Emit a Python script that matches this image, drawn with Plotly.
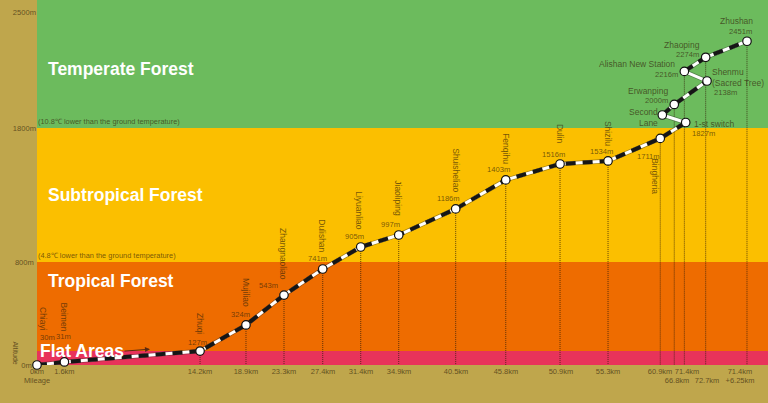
import plotly.graph_objects as go

# stations in track order; x/y are positions read on the chart's own schematic scales
names = ["Chiayi", "Beimen", "Zhuqi", "Mujiliao", "Zhangnaoliao", "Dulishan", "Liyuanliao", "Jiaoliping",
         "Shuisheliao", "Fenqihu", "Dulin", "Shizilu", "Bingheria", "1-st switch", "Second<br>Lane",
         "Erwanping", "Shenmu<br>(Sacred Tree)", "Alishan New Station", "Zhaoping", "Zhushan"]
altitude = ["30m", "31m", "127m", "324m", "543m", "741m", "905m", "997m", "1186m", "1403m", "1516m",
            "1534m", "1711m", "1827m", "", "2000m", "2138m", "2216m", "2274m", "2451m"]
track_x = [0, 2.66, 15.83, 20.29, 23.98, 27.74, 31.43, 35.12, 40.65, 45.51, 50.78, 55.44,
           60.51, 62.98, 60.71, 61.87, 65.05, 62.85, 64.92, 68.93]
track_y = [0, 23, 106, 304, 531, 729, 896, 987, 1185, 1405, 1526, 1549,
           1720, 1841, 1898, 1978, 2156, 2229, 2336, 2458]

# mileage labels
km_pos = [0, 2.66, 15.83, 20.29, 23.98, 27.77, 31.46, 35.15, 40.68, 45.53, 50.87, 55.44,
          60.49, 63.11, 62.14, 65.05, 68.25]
km_text = ["0km<br>Mileage", "1.6km", "14.2km", "18.9km", "23.3km", "27.4km", "31.4km", "34.9km", "40.5km",
           "45.8km", "50.9km", "55.3km", "60.9km", "71.4km", "<br>66.8km", "<br>72.7km", "71.4km<br>+6.25km"]

# altitude axis
alt_pos = [0, 782, 1800, 2680]
alt_text = ["0m&nbsp;&nbsp;", "800m&nbsp;", "1800m", "2500m"]

# zones
band_names = ["Flat Areas", "Tropical Forest", "Subtropical Forest", "Temperate Forest"]
band_low = [0, 106, 782, 1800]
band_high = [106, 782, 1800, 2771]
band_colors = ["#e8335a", "#ee6c00", "#fbbf00", "#6cbb5d"]
band_label_y = [106, 638, 1289, 2247]

# dropped guide lines, by station index
drops = [2, 3, 4, 5, 6, 7, 8, 9, 10, 11, 12, 15, 17, 18, 19]
long_drops = [15, 18]

INK = "rgba(50,35,10,0.68)"
FONT = "Liberation Sans"

# label offsets from the station, pixels (right, up)
name_off = [(6, 46), (0, 45), (0, 28), (0, 32), (-1, 41), (-1, 33), (-2, 36), (-1, 37), (0, 39), (0, 31),
            (0, 30), (0, 28), (-6, -38), (28, -1), (-19, -3), (-26, 13), (31, 4), (-47, 7), (-24, 12), (-10, 20)]
alt_off = [(10, 28), (-1, 25), (-3, 9), (-5, 10), (-16, 10), (-5, 10), (-6, 10), (-8, 10), (-7, 10), (-7, 10),
           (-7, 9), (-7, 9), (-12, -18), (18, -11), (0, 0), (-18, 4), (18, -11), (-18, -3), (-18, 3), (-6, 10)]

fig = go.Figure()

# guide lines
gx, gy = [], []
for i in drops:
    gx += [track_x[i], track_x[i], None]
    gy += [track_y[i], -121 if i in long_drops else 0, None]
fig.add_trace(go.Scatter(x=gx, y=gy, mode="lines", cliponaxis=False, hoverinfo="skip",
                         line=dict(color="rgba(50,30,10,0.75)", width=1, dash="1px,1px")))

# track: soft edge, white bed, black sleepers; the two switchback legs stay white
fig.add_trace(go.Scatter(x=track_x, y=track_y, mode="lines", cliponaxis=False,
                         line=dict(color="rgba(40,40,40,0.4)", width=4.5)))
fig.add_trace(go.Scatter(x=track_x, y=track_y, mode="lines", cliponaxis=False,
                         line=dict(color="white", width=3)))
sx, sy = [], []
for i in range(len(track_x)):
    if i in (14, 17):
        sx.append(None)
        sy.append(None)
    sx.append(track_x[i])
    sy.append(track_y[i])
fig.add_trace(go.Scatter(x=sx, y=sy, mode="lines", cliponaxis=False,
                         line=dict(color="#161616", width=4, dash="10px,7px")))
fig.add_trace(go.Scatter(x=track_x, y=track_y, mode="markers", cliponaxis=False,
                         marker=dict(color="white", size=8.5, line=dict(color="#111", width=1.2))))

for i in range(len(band_names)):
    fig.add_shape(type="rect", layer="below", xref="paper", x0=0, x1=1, y0=band_low[i], y1=band_high[i],
                  fillcolor=band_colors[i], line_width=0)
    fig.add_annotation(x=0, y=band_label_y[i], text="<b>%s</b>" % band_names[i], showarrow=False,
                       xanchor="left", xshift=1 if i == 0 else 9,
                       font=dict(family=FONT, size=17.5, color="white"))

fig.add_annotation(x=0, y=1848, text="(10.8℃ lower than the ground temperature)", showarrow=False,
                   xanchor="left", xshift=-1, font=dict(family=FONT, size=7.4, color=INK))
fig.add_annotation(x=0, y=835, text="(4.8℃ lower than the ground temperature)", showarrow=False,
                   xanchor="left", xshift=-1, font=dict(family=FONT, size=7.4, color=INK))

# direction arrow after "Flat Areas"
fig.add_annotation(x=10.97, y=120, ax=-27, ay=2, text="", showarrow=True, arrowhead=2, arrowsize=1,
                   arrowwidth=1, arrowcolor="#5a2a10")

for i in range(len(names)):
    upright = i <= 12
    fig.add_annotation(x=track_x[i], y=track_y[i], text=names[i], showarrow=False,
                       textangle=90 if upright else 0, align="right" if i == 14 else "left",
                       xshift=name_off[i][0], yshift=name_off[i][1],
                       font=dict(family=FONT, size=8.5, color=INK))
    if altitude[i]:
        fig.add_annotation(x=track_x[i], y=track_y[i], text=altitude[i], showarrow=False,
                           xshift=alt_off[i][0], yshift=alt_off[i][1],
                           font=dict(family=FONT, size=7.6, color=INK))

fig.add_annotation(xref="paper", x=-27 / 731, y=92, text="Altitude", textangle=90, showarrow=False,
                   font=dict(family=FONT, size=7, color=INK))

fig.update_layout(
    width=768, height=403,
    margin=dict(l=37, r=0, t=0, b=38),
    paper_bgcolor="#bfa64c",
    plot_bgcolor="#bfa64c",
    showlegend=False,
    xaxis=dict(range=[0, 70.97], showgrid=False, zeroline=False, tickmode="array", tickvals=km_pos,
               ticktext=km_text, tickangle=0, ticks="", tickfont=dict(family=FONT, size=7.5, color=INK)),
    yaxis=dict(range=[0, 2771], showgrid=False, zeroline=False, tickmode="array", tickvals=alt_pos,
               ticktext=alt_text, ticks="", tickfont=dict(family=FONT, size=7.6, color=INK)),
)

fig.write_html("out.html", config=dict(displayModeBar=False), post_script="document.body.style.margin='0';")
